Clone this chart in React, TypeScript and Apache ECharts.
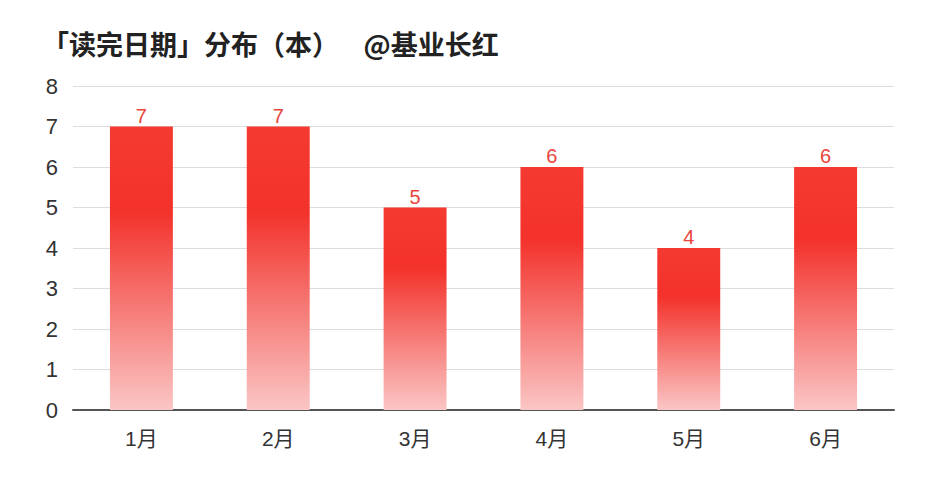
import React, { useEffect, useRef } from "react";
import * as echarts from "echarts";

const titleText = "「读完日期」分布（本）    @基业长红";
const categories = ["1月", "2月", "3月", "4月", "5月", "6月"];
const values = [7, 7, 5, 6, 4, 6];
const yMin = 0;
const yMax = 8;
const yInterval = 1;

const latin = "'Liberation Sans', 'Noto Sans CJK SC', sans-serif";

export default function App() {
  const ref = useRef<HTMLDivElement>(null);
  useEffect(() => {
    if (!ref.current) return;
    const chart = echarts.init(ref.current, undefined, { renderer: "svg" });
    chart.setOption({
      animation: false,
      backgroundColor: "#ffffff",
      title: {
        text: titleText,
        left: 29,
        top: 17,
        textStyle: {
          fontFamily: "Noto Sans CJK SC",
          fontSize: 27,
          fontWeight: "bold",
          color: "#222222",
        },
      },
      grid: { left: 65, right: 32, top: 78, bottom: 60 },
      xAxis: {
        type: "category",
        data: categories,
        axisTick: { show: false },
        axisLine: { lineStyle: { color: "#555555", width: 2 } },
        axisLabel: {
          fontFamily: latin,
          fontSize: 21,
          color: "#333333",
          margin: 18,
        },
      },
      yAxis: {
        type: "value",
        min: yMin,
        max: yMax,
        interval: yInterval,
        axisLine: { show: false },
        axisTick: { show: false },
        splitLine: { lineStyle: { color: "#dddddd", width: 1 } },
        axisLabel: {
          fontFamily: latin,
          fontSize: 22,
          color: "#333333",
          margin: 15,
        },
      },
      series: [
        {
          type: "bar",
          data: values,
          barWidth: "46%",
          itemStyle: {
            color: new echarts.graphic.LinearGradient(0, 0, 0, 1, [
              { offset: 0, color: "#f43a31" },
              { offset: 0.3, color: "#f3322b" },
              { offset: 1, color: "#fac6c5" },
            ]),
          },
          label: {
            show: true,
            position: "top",
            distance: 1,
            fontFamily: latin,
            fontSize: 20,
            color: "#e8453c",
          },
        },
      ],
    });
    return () => chart.dispose();
  }, []);
  return <div ref={ref} style={{ width: 918, height: 462 }} />;
}
